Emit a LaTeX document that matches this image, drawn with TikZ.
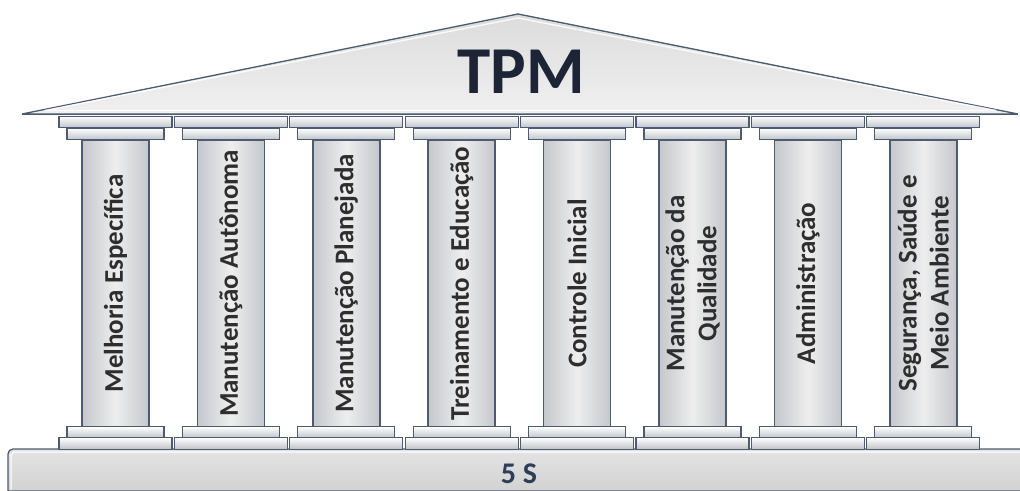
\documentclass[tikz,border=0pt]{standalone}
\usepackage{fontspec}
\setmainfont{Carlito}
\definecolor{edge}{HTML}{4D5B70}
\definecolor{titlecol}{HTML}{1C2436}
\definecolor{basetxt}{HTML}{2C3E58}
\definecolor{labeltxt}{HTML}{2E2E2E}
\definecolor{slabdark}{HTML}{BEC2C8}
\definecolor{shaftside}{HTML}{C4C7CC}
\definecolor{shaftmid}{HTML}{EEEEEE}
\definecolor{roofhi}{HTML}{DCDCDC}
\definecolor{roofcol}{HTML}{F0F0F0}
\definecolor{basecol}{HTML}{D2D2D2}
\begin{document}
\begin{tikzpicture}[x=1pt,y=-1pt,
  slab/.style={draw=edge,line width=1.3pt,top color=white,bottom color=slabdark,
    inner sep=0pt,outer sep=0pt,minimum height=11.5pt},
  widecap/.style={slab,minimum width=113pt},
  narrowcap/.style={slab,minimum width=97pt},
  shaftbox/.style={draw=edge,line width=1.6pt,left color=shaftside,right color=shaftside,
    middle color=shaftmid,inner sep=0pt,outer sep=0pt,minimum width=67pt,minimum height=287pt},
  pillarlabel/.style={rotate=90,align=center,text=labeltxt,
    font=\fontsize{27}{32}\selectfont\bfseries,inner sep=0pt}]
\useasboundingbox (0,0) rectangle (1020,490);
\fill[white] (0,0) rectangle (1020,490);

% roof
\draw[edge,line width=1.3pt,top color=roofhi,bottom color=roofcol]
  (22,114) -- (518,14) -- (1018,114) -- cycle;
\draw[white,line width=1.4pt,opacity=0.85]
  (45,110.5) -- (518,18) -- (996,110.5) -- cycle;
\draw[edge,line width=1.6pt] (22,114.5) -- (1018,114.5);
\node[anchor=base,text=titlecol,font=\fontsize{67}{70}\selectfont\bfseries,inner sep=0pt]
  (tpm) at (521,93) {TPM};

% foundation
\draw[edge,line width=1.3pt,top color=basecol!60!white,bottom color=basecol]
  (8,491) -- (8,454) arc[start angle=180,end angle=270,radius=5] -- (1021,449) -- (1021,491) -- cycle;
\draw[white,line width=1.5pt,opacity=0.7] (11,490) -- (11,455) -- (14,452) -- (1020,452);
\node[anchor=base,text=basetxt,font=\fontsize{30}{34}\selectfont\bfseries,inner sep=0pt]
  (fives) at (519,483) {5 S};

% pillars
\foreach \i/\t in {1/{Melhoria Específica},
                   2/{Manutenção Autônoma},
                   3/{Manutenção Planejada},
                   4/{Treinamento e Educação},
                   5/{Controle Inicial},
                   6/{Manutenção da\\Qualidade},
                   7/{Administração},
                   8/{Segurança, Saúde e\\Meio Ambiente}}{
  \pgfmathsetmacro{\cx}{115.5+(\i-1)*115.4}
  \node[shaftbox] (sh\i) at (\cx,283.5) {};
  \node[widecap]   (ca\i) at (\cx,122) {};
  \node[narrowcap] (cb\i) at (\cx,134) {};
  \node[narrowcap] (bb\i) at (\cx,432.5) {};
  \node[widecap]   (ba\i) at (\cx,443.5) {};
  \node[pillarlabel] (lb\i) at (sh\i.center) {\t};
}
\end{tikzpicture}
\end{document}
